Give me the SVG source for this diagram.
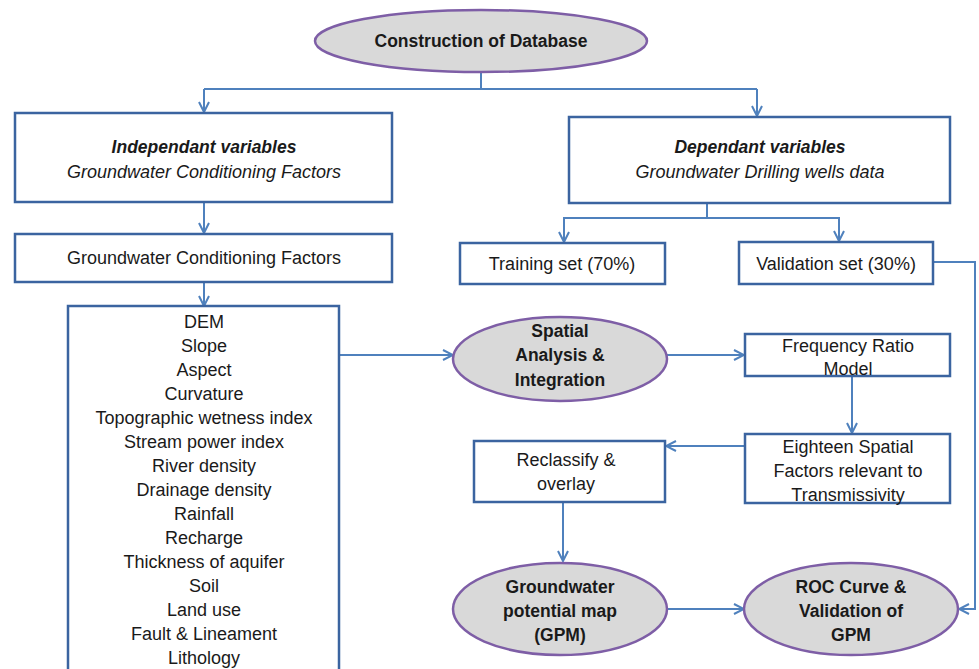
<svg xmlns="http://www.w3.org/2000/svg" width="979" height="669" viewBox="0 0 979 669">
<style>
.box{fill:#fff;stroke:#3b64a0;stroke-width:2.5}
.ell{fill:#d9d9d9;stroke:#7e5ea6;stroke-width:2.5}
.con{fill:none;stroke:#4f81bd;stroke-width:2}
text{font-family:"Liberation Sans",Arial,sans-serif;font-size:18px;fill:#1a1a1a;text-anchor:middle}
.b{font-weight:bold;font-size:17.5px}
.bi{font-weight:bold;font-style:italic;font-size:17.5px}
.i{font-style:italic}
</style>
<defs>
<marker id="arr" viewBox="0 0 12 12" refX="11" refY="6" markerWidth="12" markerHeight="12" markerUnits="userSpaceOnUse" orient="auto">
<path d="M1,1 L11,6 L1,11" fill="none" stroke="#4f81bd" stroke-width="2"/>
</marker>
</defs>
<g id="connectors">
<path class="con" d="M481,72 V89"/>
<path class="con" d="M204,89 H757"/>
<path class="con" d="M204,89 V112" marker-end="url(#arr)"/>
<path class="con" d="M757,89 V116" marker-end="url(#arr)"/>
<path class="con" d="M204,202 V233" marker-end="url(#arr)"/>
<path class="con" d="M204,282 V306" marker-end="url(#arr)"/>
<path class="con" d="M707,203 V218 H564 V242" marker-end="url(#arr)"/>
<path class="con" d="M707,218 H839 V241" marker-end="url(#arr)"/>
<path class="con" d="M339,355 H453" marker-end="url(#arr)"/>
<path class="con" d="M667,355 H744" marker-end="url(#arr)"/>
<path class="con" d="M852,376 V433" marker-end="url(#arr)"/>
<path class="con" d="M745,446 H666" marker-end="url(#arr)"/>
<path class="con" d="M563,502 V561" marker-end="url(#arr)"/>
<path class="con" d="M667,609 H744" marker-end="url(#arr)"/>
<path class="con" d="M933,262 H975 V609 H959" marker-end="url(#arr)"/>
</g>
<g id="n-database">
<ellipse class="ell" cx="481" cy="41" rx="166" ry="31"/>
<text class="b" x="481" y="47">Construction of Database</text>
</g>
<g id="n-independant">
<rect class="box" x="15" y="113" width="377" height="89"/>
<text class="bi" x="204" y="153">Independant variables</text>
<text class="i" x="204" y="178">Groundwater Conditioning Factors</text>
</g>
<g id="n-dependant">
<rect class="box" x="569" y="117" width="381" height="86"/>
<text class="bi" x="760" y="153">Dependant variables</text>
<text class="i" x="760" y="178">Groundwater Drilling wells data</text>
</g>
<g id="n-gcf">
<rect class="box" x="15" y="234" width="377" height="48"/>
<text x="204" y="264">Groundwater Conditioning Factors</text>
</g>
<g id="n-training">
<rect class="box" x="460" y="243" width="205" height="41"/>
<text x="562" y="270">Training set (70%)</text>
</g>
<g id="n-validation">
<rect class="box" x="739" y="242" width="194" height="42"/>
<text x="836" y="270">Validation set (30%)</text>
</g>
<g id="n-factors">
<rect class="box" x="68" y="306" width="271" height="380"/>
<text x="204" y="328">DEM</text>
<text x="204" y="352">Slope</text>
<text x="204" y="376">Aspect</text>
<text x="204" y="400">Curvature</text>
<text x="204" y="424">Topographic wetness index</text>
<text x="204" y="448">Stream power index</text>
<text x="204" y="472">River density</text>
<text x="204" y="496">Drainage density</text>
<text x="204" y="520">Rainfall</text>
<text x="204" y="544">Recharge</text>
<text x="204" y="568">Thickness of aquifer</text>
<text x="204" y="592">Soil</text>
<text x="204" y="616">Land use</text>
<text x="204" y="640">Fault &amp; Lineament</text>
<text x="204" y="664">Lithology</text>
</g>
<g id="n-spatial">
<ellipse class="ell" cx="560" cy="359" rx="107" ry="42"/>
<text class="b" x="560" y="337">Spatial</text>
<text class="b" x="560" y="361">Analysis &amp;</text>
<text class="b" x="560" y="386">Integration</text>
</g>
<g id="n-fr">
<rect class="box" x="745" y="334" width="205" height="42"/>
<text x="848" y="352">Frequency Ratio</text>
<text x="848" y="375">Model</text>
</g>
<g id="n-eighteen">
<rect class="box" x="745" y="434" width="205" height="69"/>
<text x="848" y="453">Eighteen Spatial</text>
<text x="848" y="477">Factors relevant to</text>
<text x="848" y="501">Transmissivity</text>
</g>
<g id="n-reclassify">
<rect class="box" x="474" y="441" width="191" height="61"/>
<text x="566" y="466">Reclassify &amp;</text>
<text x="566" y="490">overlay</text>
</g>
<g id="n-gpm">
<ellipse class="ell" cx="560" cy="609" rx="107" ry="46"/>
<text class="b" x="560" y="593">Groundwater</text>
<text class="b" x="560" y="617">potential map</text>
<text class="b" x="560" y="641">(GPM)</text>
</g>
<g id="n-roc">
<ellipse class="ell" cx="851" cy="609" rx="107" ry="46"/>
<text class="b" x="851" y="593">ROC Curve &amp;</text>
<text class="b" x="851" y="617">Validation of</text>
<text class="b" x="851" y="641">GPM</text>
</g>
</svg>
